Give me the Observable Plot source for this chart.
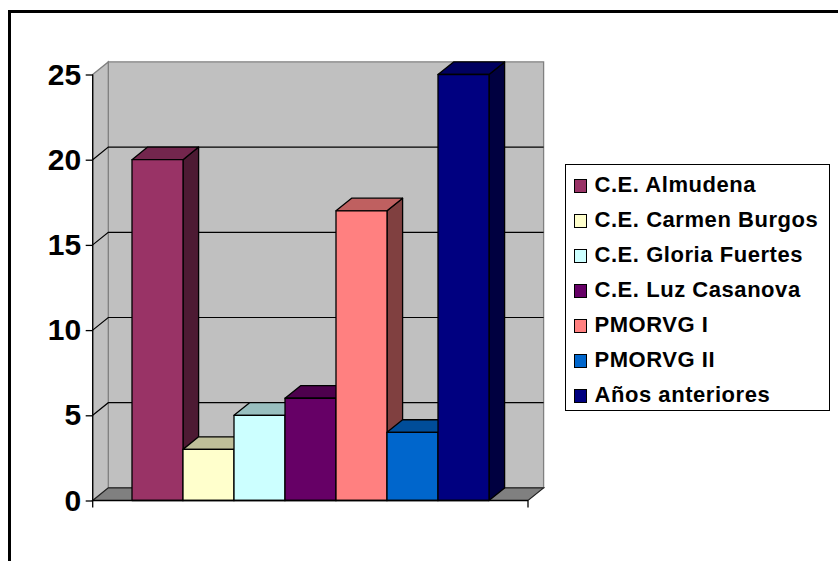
<!DOCTYPE html>
<html>
<head>
<meta charset="utf-8">
<script src="https://cdn.jsdelivr.net/npm/d3@7"></script>
<script src="https://cdn.jsdelivr.net/npm/@observablehq/plot@0.6"></script>
<style>
  html, body { margin: 0; padding: 0; background: #fff; width: 838px; height: 561px; overflow: hidden; }
  #frame { position: absolute; left: 8px; top: 10px; width: 900px; height: 700px; border: 3px solid #000; box-sizing: border-box; }
  #chart { position: absolute; left: 0; top: 0; }
  #legend { position: absolute; left: 565px; top: 164px; width: 265px; height: 247px; border: 1.5px solid #000; box-sizing: border-box; background: #fff;
            font-family: "Liberation Sans", Arial, sans-serif; font-weight: bold; font-size: 22px; color: #000; }
  .item { position: absolute; left: 0; height: 30px; white-space: nowrap; letter-spacing: 0.55px; }
  .sw { position: absolute; left: 8px; width: 11px; height: 12px; border: 1px solid #000; }
  .lbl { position: absolute; left: 28.5px; line-height: 30px; }
  #chart svg text { font-weight: bold; }
</style>
</head>
<body>
<div id="frame"></div>
<div id="chart"></div>
<div id="legend"></div>
<script>
const categories = ["C.E. Almudena", "C.E. Carmen Burgos", "C.E. Gloria Fuertes", "C.E. Luz Casanova", "PMORVG I", "PMORVG II", "Años anteriores"];
const values = [20, 3, 5, 6, 17, 4, 25];
const colors = ["#993366", "#FFFFCC", "#CCFFFF", "#660066", "#FF8080", "#0066CC", "#000080"];
const yTicks = [0, 5, 10, 15, 20, 25];

const data = categories.map((name, i) => ({name, value: values[i], color: colors[i]}));

const DX = 15.6, DY = 12.6;
const W = 838, H = 561;
const shade = (c, k) => { const r = d3.rgb(c); return d3.rgb(r.r * k, r.g * k, r.b * k).formatHex(); };
const pts = a => a.map(p => p.join(",")).join(" ");

function walls(index, scales, vals, dim) {
  const x0 = dim.marginLeft, x1 = dim.width - dim.marginRight;
  const y = scales.y;
  const yTop = y(d3.max(yTicks)), yBot = y(0);
  const g = d3.create("svg:g");
  g.append("polygon").attr("points", pts([[x0 + DX, yTop - DY], [x1 + DX, yTop - DY], [x1 + DX, yBot - DY], [x0 + DX, yBot - DY]]))
    .attr("fill", "#c0c0c0").attr("stroke", "#808080").attr("stroke-width", 1.3);
  g.append("polygon").attr("points", pts([[x0, yTop], [x0 + DX, yTop - DY], [x0 + DX, yBot - DY], [x0, yBot]]))
    .attr("fill", "#c0c0c0").attr("stroke", "#808080").attr("stroke-width", 1.3);
  g.append("polygon").attr("points", pts([[x0, yBot], [x0 + DX, yBot - DY], [x1 + DX, yBot - DY], [x1, yBot]]))
    .attr("fill", "#808080").attr("stroke", "#202020").attr("stroke-width", 1.2);
  for (const t of yTicks) {
    if (t === 0 || t === d3.max(yTicks)) continue;
    const yy = y(t);
    g.append("polyline").attr("points", pts([[x0, yy], [x0 + DX, yy - DY], [x1 + DX, yy - DY]]))
      .attr("fill", "none").attr("stroke", "#000").attr("stroke-width", 1.2);
  }
  return g.node();
}

function bars3d(index, scales, vals, dim) {
  const bw = scales.x.bandwidth();
  const g = d3.create("svg:g").attr("stroke", "#000").attr("stroke-width", 1.3).attr("stroke-linejoin", "round");
  for (const i of index) {
    const xa = vals.x[i], xb = xa + bw;
    const yt = Math.min(vals.y1[i], vals.y2[i]), yb = Math.max(vals.y1[i], vals.y2[i]);
    const c = data[i].color;
    const b = g.append("g");
    b.append("polygon").attr("points", pts([[xb, yt], [xb + DX, yt - DY], [xb + DX, yb - DY], [xb, yb]])).attr("fill", shade(c, 0.5));
    b.append("polygon").attr("points", pts([[xa, yt], [xa + DX, yt - DY], [xb + DX, yt - DY], [xb, yt]])).attr("fill", shade(c, 0.75));
    b.append("rect").attr("x", xa).attr("y", yt).attr("width", bw).attr("height", yb - yt).attr("fill", c);
  }
  return g.node();
}

function axes(index, scales, vals, dim) {
  const x0 = dim.marginLeft, x1 = dim.width - dim.marginRight;
  const y = scales.y;
  const yTop = y(d3.max(yTicks)), yBot = y(0);
  const g = d3.create("svg:g").attr("stroke", "#000").attr("stroke-width", 1.3).attr("fill", "none");
  g.append("line").attr("x1", x0).attr("x2", x0).attr("y1", yTop).attr("y2", yBot + 7);
  g.append("line").attr("x1", x0).attr("x2", x1).attr("y1", yBot).attr("y2", yBot);
  g.append("line").attr("x1", x1).attr("x2", x1).attr("y1", yBot).attr("y2", yBot + 7);
  return g.node();
}

const chart = Plot.plot({
  width: W,
  height: H,
  marginLeft: 92.7,
  marginRight: W - 528,
  marginTop: 74.5,
  marginBottom: H - 500.5,
  style: {fontFamily: "Liberation Sans, Arial, sans-serif", background: "transparent", overflow: "visible"},
  x: {domain: categories, paddingInner: 0, paddingOuter: 0.747, axis: null},
  y: {domain: [0, 25], axis: null},
  marks: [
    Plot.frame({render: walls}),
    Plot.barY(data, {x: "name", y: "value", render: bars3d}),
    Plot.frame({render: axes}),
    Plot.axisY(yTicks, {anchor: "left", tickSize: 7, tickPadding: 5, fontSize: 30, fontWeight: "bold", color: "#000", strokeWidth: 1.3, label: null})
  ]
});
document.getElementById("chart").appendChild(chart);

const legend = d3.select("#legend");
categories.forEach((name, i) => {
  const row = legend.append("div").attr("class", "item").style("top", (21 - 1.5 - 15 + i * 35.1) + "px");
  row.append("div").attr("class", "sw").style("background", colors[i]).style("top", "9px");
  row.append("div").attr("class", "lbl").text(name);
});
</script>
</body>
</html>
